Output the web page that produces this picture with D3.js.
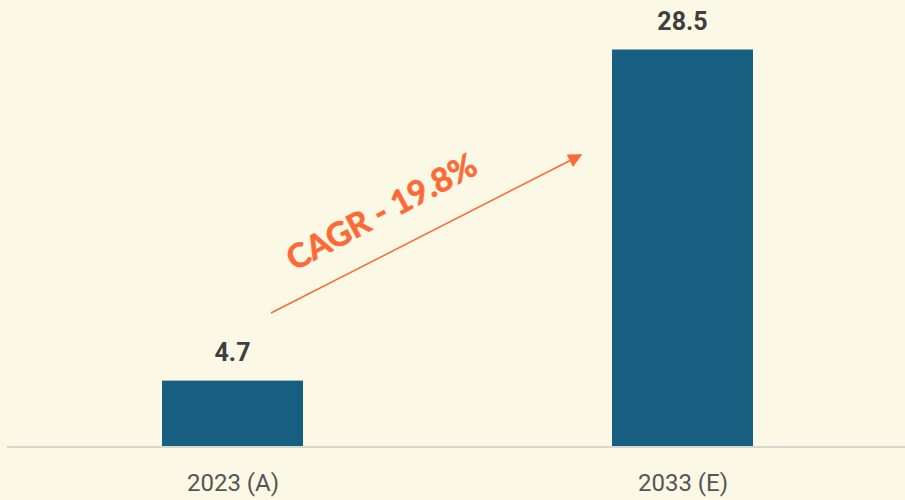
<!DOCTYPE html>
<html><head><meta charset="utf-8">
<script src="https://cdn.jsdelivr.net/npm/d3@7"></script>
<style>html,body{margin:0;padding:0;background:#FCF8E6;}svg{display:block;}</style>
</head><body>
<script>
const categories = ["2023 (A)", "2033 (E)"];
const values = [4.7, 28.5];
const valueLabels = ["4.7", "28.5"];
const cagrLabel = "CAGR - 19.8%";

const W = 905, H = 500;
const svg = d3.select("body").append("svg").attr("width", W).attr("height", H);
svg.append("rect").attr("width", W).attr("height", H).attr("fill", "#FCF8E6");

const baseY = 446;
const barW = 141;
const x = d3.scalePoint().domain(categories).range([232.5, 682.5]);
const y = d3.scaleLinear().domain([0, 28.5]).range([baseY, 49.5]);

svg.selectAll("rect.bar").data(values).join("rect")
  .attr("class", "bar")
  .attr("x", (d, i) => x(categories[i]) - barW / 2)
  .attr("width", barW)
  .attr("y", d => y(d))
  .attr("height", d => baseY - y(d))
  .attr("fill", "#175F80");

// baseline
svg.append("line").attr("x1", 7).attr("x2", 905).attr("y1", baseY + 1).attr("y2", baseY + 1)
  .attr("stroke", "#D9D7D0").attr("stroke-width", 2);

// value labels
svg.selectAll("text.val").data(values).join("text")
  .attr("class", "val")
  .attr("x", (d, i) => x(categories[i]))
  .attr("y", d => y(d) - 20)
  .attr("text-anchor", "middle")
  .attr("font-family", "Roboto, sans-serif").attr("font-weight", "bold")
  .attr("font-size", 25).attr("fill", "#3F3F3F")
  .text((d, i) => valueLabels[i]);

// axis labels
const xAxis = d3.axisBottom(x).tickSize(0).tickPadding(0);
const ax = svg.append("g").attr("transform", `translate(0,${baseY + 28})`).call(xAxis);
ax.select(".domain").remove();
ax.selectAll("text").attr("font-family", "Roboto, sans-serif").attr("font-size", 24)
  .attr("fill", "#555555");

// CAGR arrow
const defs = svg.append("defs");
defs.append("marker").attr("id", "arrowhead").attr("viewBox", "0 0 10 10")
  .attr("refX", 9).attr("refY", 5)
  .attr("markerUnits", "userSpaceOnUse").attr("orient", "auto")
  .attr("markerWidth", 18).attr("markerHeight", 14)
  .append("path").attr("d", "M0,0 L10,5 L0,10 Z").attr("fill", "#FD6A35");

const x0 = 271, y0 = 313;
const x1 = 581, y1 = 155;
svg.append("line").attr("x1", x0).attr("y1", y0).attr("x2", x1).attr("y2", y1)
  .attr("stroke", "#FD6A35").attr("stroke-width", 1.5).attr("marker-end", "url(#arrowhead)");

const ang = Math.atan2(y1 - y0, x1 - x0) * 180 / Math.PI;
svg.append("text")
  .attr("transform", `translate(387,222) rotate(${ang - 1})`)
  .attr("text-anchor", "middle")
  .attr("font-family", "Lato, 'Open Sans', sans-serif").attr("font-weight", "bold")
  .attr("font-size", 33).attr("fill", "#FD6A35")
  .attr("stroke", "#FD6A35").attr("stroke-width", 0.7)
  .text(cagrLabel);
</script>
</body></html>
